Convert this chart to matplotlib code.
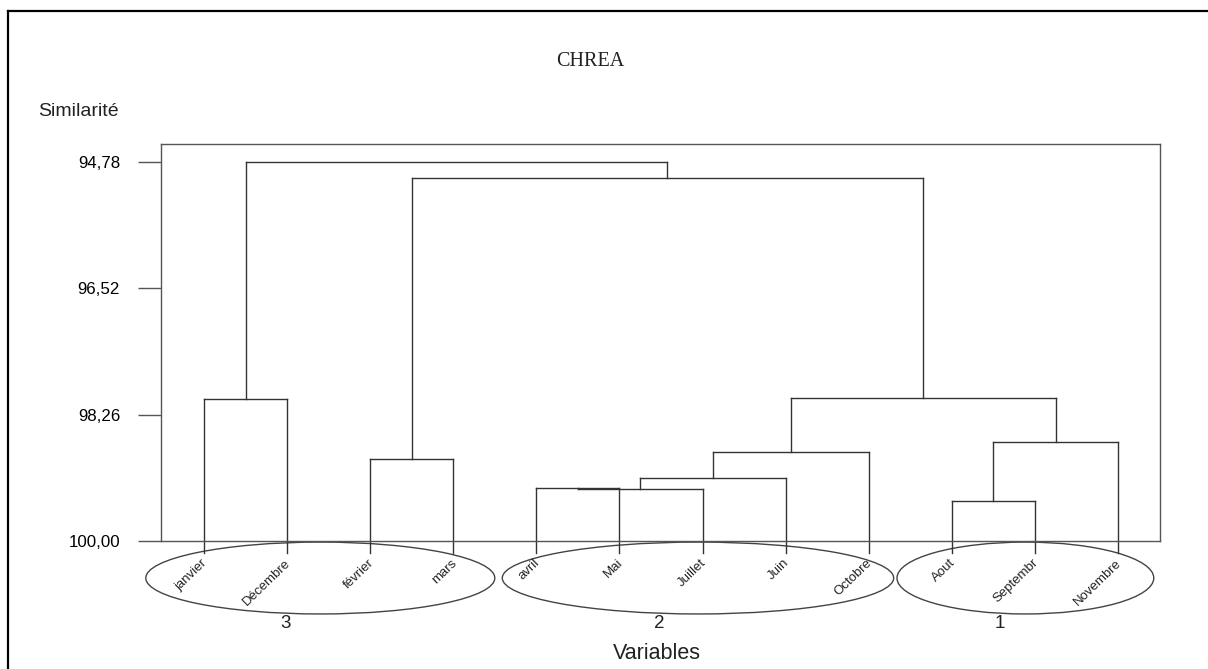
import numpy as np
import matplotlib
matplotlib.use("Agg")
import matplotlib.pyplot as plt
from matplotlib.patches import Ellipse
from matplotlib.lines import Line2D

plt.rcParams['font.family'] = ['Liberation Sans', 'DejaVu Sans']

# leaves, in dendrogram order
months = ['janvier', 'Décembre', 'février', 'mars', 'avril', 'Mai',
          'Juillet', 'Juin', 'Octobre', 'Aout', 'Septembr', 'Novembre']
# merges: node ids 0..11 are leaves, 12.. are clusters (in merge order)
merge_a = [0, 2, 4, 14, 15, 16, 9, 18, 17, 13, 12]
merge_b = [1, 3, 5, 6, 7, 8, 10, 11, 19, 20, 21]
merge_sim = [98.04, 98.87, 99.27, 99.285, 99.13, 98.78, 99.45, 98.64, 98.03, 95.00, 94.78]

yticks = [94.78, 96.52, 98.26, 100.00]
ytick_labels = ['94,78', '96,52', '98,26', '100,00']

# cluster groups (first leaf, last leaf) and their numbers
groups = [(0, 3), (4, 8), (9, 11)]
group_ids = ['3', '2', '1']

W, H = 1208, 669
fig = plt.figure(figsize=(W / 100, H / 100), dpi=100)
ax = fig.add_axes([161 / W, (H - 541) / H, (1160 - 161) / W, (541 - 144) / H])

xs = np.arange(1, len(months) + 1)
ax.set_xlim(0.483, 12.505)
ax.set_ylim(100.0, 94.532)

lc = '#333333'
# node positions
nx = list(xs.astype(float))
ny = [100.0] * len(months)
leaf_bottom = 100.165
for a, b, h in zip(merge_a, merge_b, merge_sim):
    for c in (a, b):
        y0 = leaf_bottom if c < len(months) else ny[c]
        ax.plot([nx[c], nx[c]], [y0, h], color=lc, lw=1.0, clip_on=False)
    ax.plot([nx[a], nx[b]], [h, h], color=lc, lw=1.0)
    nx.append((nx[a] + nx[b]) / 2)
    ny.append(h)

ax.set_yticks(yticks)
ax.set_yticklabels(ytick_labels, fontsize=12.2)
ax.tick_params(axis='y', direction='out', length=16.5, width=1, color='#555555', pad=13)
ax.set_xticks([])
for s in ax.spines.values():
    s.set_color('#555555')
    s.set_linewidth(1.0)

# month labels
for x, m in zip(xs, months):
    ax.text(x + 0.02, 100.28, m, rotation=44, ha='right', va='center',
            rotation_mode='anchor', fontsize=9.5, color='#222222', clip_on=False)

# ellipses around clusters
pads = [(0.70, 0.50), (0.41, 0.30), (0.66, 0.43)]
for (i0, i1), (pl, pr), gid in zip(groups, pads, group_ids):
    left = xs[i0] - pl
    right = xs[i1] + pr
    e = Ellipse(((left + right) / 2, 100.51), right - left, 0.99,
                fill=False, edgecolor='#444444', lw=1.0, clip_on=False)
    ax.add_patch(e)
    cx = (left + right) / 2 - (right - left) * 0.1
    ax.text(cx, 101.14, gid, ha='center', va='center', fontsize=13.5, color='#222222')

ax.text(6.45, 101.55, 'Variables', ha='center', va='center', fontsize=15.5, color='#222222')

fig.text(38 / W, 1 - 112 / H, 'Similarité', ha='left', va='center', fontsize=14, color='#222222')
fig.text(590 / W, 1 - 62 / H, 'CHREA', ha='center', va='center', fontsize=14.5,
         family=['Liberation Serif', 'DejaVu Serif'], color='#222222')

# outer frame
fig.add_artist(Line2D([8 / W, 8 / W], [0, 1 - 11 / H], transform=fig.transFigure, color='black', lw=1.6))
fig.add_artist(Line2D([8 / W, 1], [1 - 11 / H, 1 - 11 / H], transform=fig.transFigure, color='black', lw=1.6))

fig.savefig('out.png', dpi=100)
